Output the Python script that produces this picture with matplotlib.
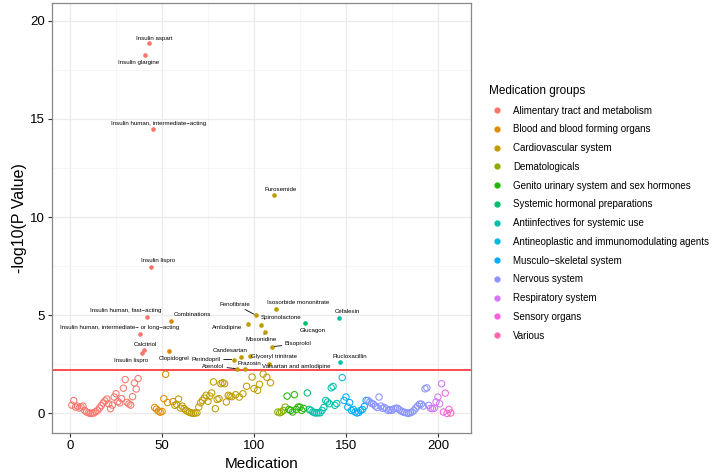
import numpy as np
import matplotlib
matplotlib.use("Agg")
import matplotlib.pyplot as plt
from matplotlib.lines import Line2D

plt.rcParams['font.family'] = ['Liberation Sans', 'DejaVu Sans']

# medication groups and ggplot-style hue colours
groups = ['Alimentary tract and metabolism', 'Blood and blood forming organs',
          'Cardiovascular system', 'Dematologicals',
          'Genito urinary system and sex hormones', 'Systemic hormonal preparations',
          'Antiinfectives for systemic use', 'Antineoplastic and immunomodulating agents',
          'Musculo\u2212skeletal system', 'Nervous system', 'Respiratory system',
          'Sensory organs', 'Various']
colors = ['#F8766D', '#E18A00', '#BE9C00', '#8CAB00', '#24B700', '#00BE70', '#00C1AB',
          '#00BBDA', '#00ACFC', '#8B93FF', '#D575FE', '#F962DD', '#FF65AC']

# -log10(p) per medication, in plotting order within each group
alimentary = [0.42, 0.65, 0.32, 0.37, 0.27, 0.32, 0.37, 0.15, 0.07, 0.03, 0.0, 0.01, 0.02,
              0.09, 0.15, 0.27, 0.39, 0.53, 0.63, 0.73, 0.49, 0.24, 0.42, 0.83, 1.0, 0.6,
              0.53, 0.75, 1.28, 1.72, 0.56, 0.48, 0.42, 0.85, 1.55, 1.24, 1.77,
              4.05, 3.08, 3.21, 18.27, 4.91, 18.84, 7.43, 14.47]
blood = [0.3, 0.22, 0.12, 0.06, 0.1, 0.75, 1.99, 0.55, 3.2, 4.69, 0.6]
cardio = [0.41, 0.46, 0.73, 0.27, 0.37, 0.24, 0.15, 0.1, 0.05, 0.02, 0.0, 0.02, 0.03, 0.32,
          0.54, 0.66, 0.78, 0.92, 0.61, 0.88, 1.04, 1.6, 0.24, 0.71, 0.75, 1.51, 1.56, 1.51,
          0.58, 0.92, 0.88, 0.85, 2.74, 0.95, 2.27, 0.83, 2.89, 1.0, 2.24, 1.38, 4.54, 2.91,
          1.85, 1.26, 5.0, 1.17, 1.48, 4.51, 2.0, 4.13, 1.84, 2.53, 1.56, 3.4, 11.1, 5.34]
derm = [0.07, 0.03, 0.07, 0.15, 0.32]
genito = [0.88, 0.2, 0.15, 0.07, 0.95, 0.2, 0.32, 0.32, 0.15, 0.25]
hormonal = [4.59, 1.04, 0.2]
antiinf = [0.15, 0.07, 0.03, 0.02, 0.03, 0.03, 0.15, 0.3, 0.66, 0.58, 0.49, 1.3, 1.37, 0.41,
           0.5, 4.86, 2.6]
antineo = [1.82]
musculo = [0.66, 0.83, 0.32, 0.55, 0.15, 0.2, 0.07, 0.02, 0.05, 0.15, 0.2, 0.35, 0.66]
nervous = [0.66, 0.58, 0.5, 0.47, 0.37, 0.3, 0.83, 0.37, 0.26, 0.3, 0.22, 0.15, 0.19, 0.15,
           0.22, 0.26, 0.26, 0.19, 0.12, 0.07, 0.05, 0.02, 0.0, 0.03, 0.07, 0.15, 0.27, 0.37,
           0.47, 0.47, 0.37, 1.25, 1.3, 0.41]
respiratory = [0.26, 0.24, 0.26, 0.58, 0.83, 0.49, 1.51]
sensory = [0.07, 1.03, 0.0, 0.2]
various = [0.02]

threshold = 2.22

# labelled medications: name, value, label offset (points)
label_names = ['Insulin aspart', 'Insulin glargine', 'Insulin human, intermediate\u2212acting',
               'Furosemide', 'Insulin lispro', 'Insulin human, fast\u2212acting', 'Combinations',
               'Insulin human, intermediate\u2212 or long\u2212acting', 'Calcitriol',
               'Insulin lispro', 'Clopidogrel', 'Fenofibrate', 'Isosorbide mononitrate',
               'Spironolactone', 'Amlodipine', 'Glucagon', 'Cefalexin', 'Moxonidine',
               'Bisoprolol', 'Candesartan', 'Glyceryl trinitrate', 'Flucloxacillin',
               'Perindopril', 'Prazosin', 'Valsartan and amlodipine', 'Atenolol']
label_values = [18.84, 18.27, 14.47, 11.1, 7.43, 4.91, 4.69, 4.05, 3.21, 3.08, 3.2, 5.0, 5.34,
                4.51, 4.54, 4.59, 4.86, 4.13, 3.4, 2.89, 2.91, 2.6, 2.74, 2.24, 2.53, 2.27]
label_offsets = [(3.9, 3.9), (-4.8, -5.3), (4.3, 4.3), (4.5, 4.5), (4.8, 5), (-15.3, 4.6),
                 (15.1, 5), (-14.8, 4.3), (1.4, 4.3), (-7.6, -5.3), (3.6, -5.8), (-14.9, 7.9),
                 (15.8, 4.3), (14.2, 5), (-15.1, -2.4), (5.5, -5), (6.3, 4.3), (-2.7, -5.3),
                 (18.5, 1.9), (-8.1, 4.3), (17.3, -0.2), (6.9, 4.3), (-19.7, 0.4), (3.6, 4.3),
                 (19.9, -1.9), (-17.4, 1.9)]
with_line = ['Fenofibrate', 'Moxonidine', 'Bisoprolol', 'Perindopril', 'Atenolol']

series = [alimentary, blood, cardio, derm, genito, hormonal, antiinf, antineo, musculo,
          nervous, respiratory, sensory, various]

fig = plt.figure(figsize=(7.15, 4.76), dpi=100)
ax = fig.add_axes([52/715, 1-433/476, (471-52)/715, (433-3)/476])

all_x = []
all_y = []
start = 1
for vals, col in zip(series, colors):
    y = np.array(vals)
    x = np.arange(start, start + len(y))
    start += len(y)
    sig = y > threshold
    ax.scatter(x[~sig], y[~sig], s=21, facecolors='none', edgecolors=col, linewidths=0.75, zorder=3)
    ax.scatter(x[sig], y[sig], s=11, color=col, linewidths=0, zorder=3)
    all_x.extend(x)
    all_y.extend(y)
all_x = np.array(all_x)
all_y = np.array(all_y)

ax.axhline(threshold, color='#FF1A1A', lw=1.1, zorder=2)

used = set()
for name, val, off in zip(label_names, label_values, label_offsets):
    idx = [i for i in np.where(np.isclose(all_y, val))[0] if i not in used][0]
    used.add(idx)
    props = None
    if name in with_line:
        props = dict(arrowstyle='-', color='black', lw=0.6, shrinkA=0, shrinkB=1.5)
    ax.annotate(name, (all_x[idx], all_y[idx]), xytext=off, textcoords='offset points',
                ha='center', va='center', fontsize=4.4, arrowprops=props, zorder=4)

ax.set_xlim(-9.8, 218)
ax.set_ylim(-1.0, 20.9)
ax.set_xticks([0, 50, 100, 150, 200])
ax.set_yticks([0, 5, 10, 15, 20])
ax.set_xticks([25, 75, 125, 175], minor=True)
ax.set_yticks([2.5, 7.5, 12.5, 17.5], minor=True)
ax.grid(which='major', color='#EBEBEB', lw=0.9, zorder=0)
ax.grid(which='minor', color='#F3F3F3', lw=0.5, zorder=0)
ax.set_axisbelow(True)
ax.tick_params(which='minor', length=0)
ax.tick_params(which='major', length=3, width=0.8, color='#333333', labelsize=9.5,
               labelcolor='black', pad=2)
for s in ax.spines.values():
    s.set_color('#888888')
    s.set_linewidth(0.9)
ax.set_xlabel('Medication', fontsize=11)
ax.set_ylabel('-log10(P Value)', fontsize=11.5, labelpad=2)

handles = [Line2D([], [], marker='o', ls='none', color=c, markersize=3.5) for c in colors]
leg = fig.legend(handles, groups, loc='upper left', bbox_to_anchor=(484/715, 1-80/476),
                 frameon=False, fontsize=7, title='Medication groups', title_fontsize=8.5,
                 labelspacing=0.9, handletextpad=0.9, handlelength=1.6, borderpad=0)
leg._legend_box.align = 'left'

fig.savefig('out.png', dpi=100)
